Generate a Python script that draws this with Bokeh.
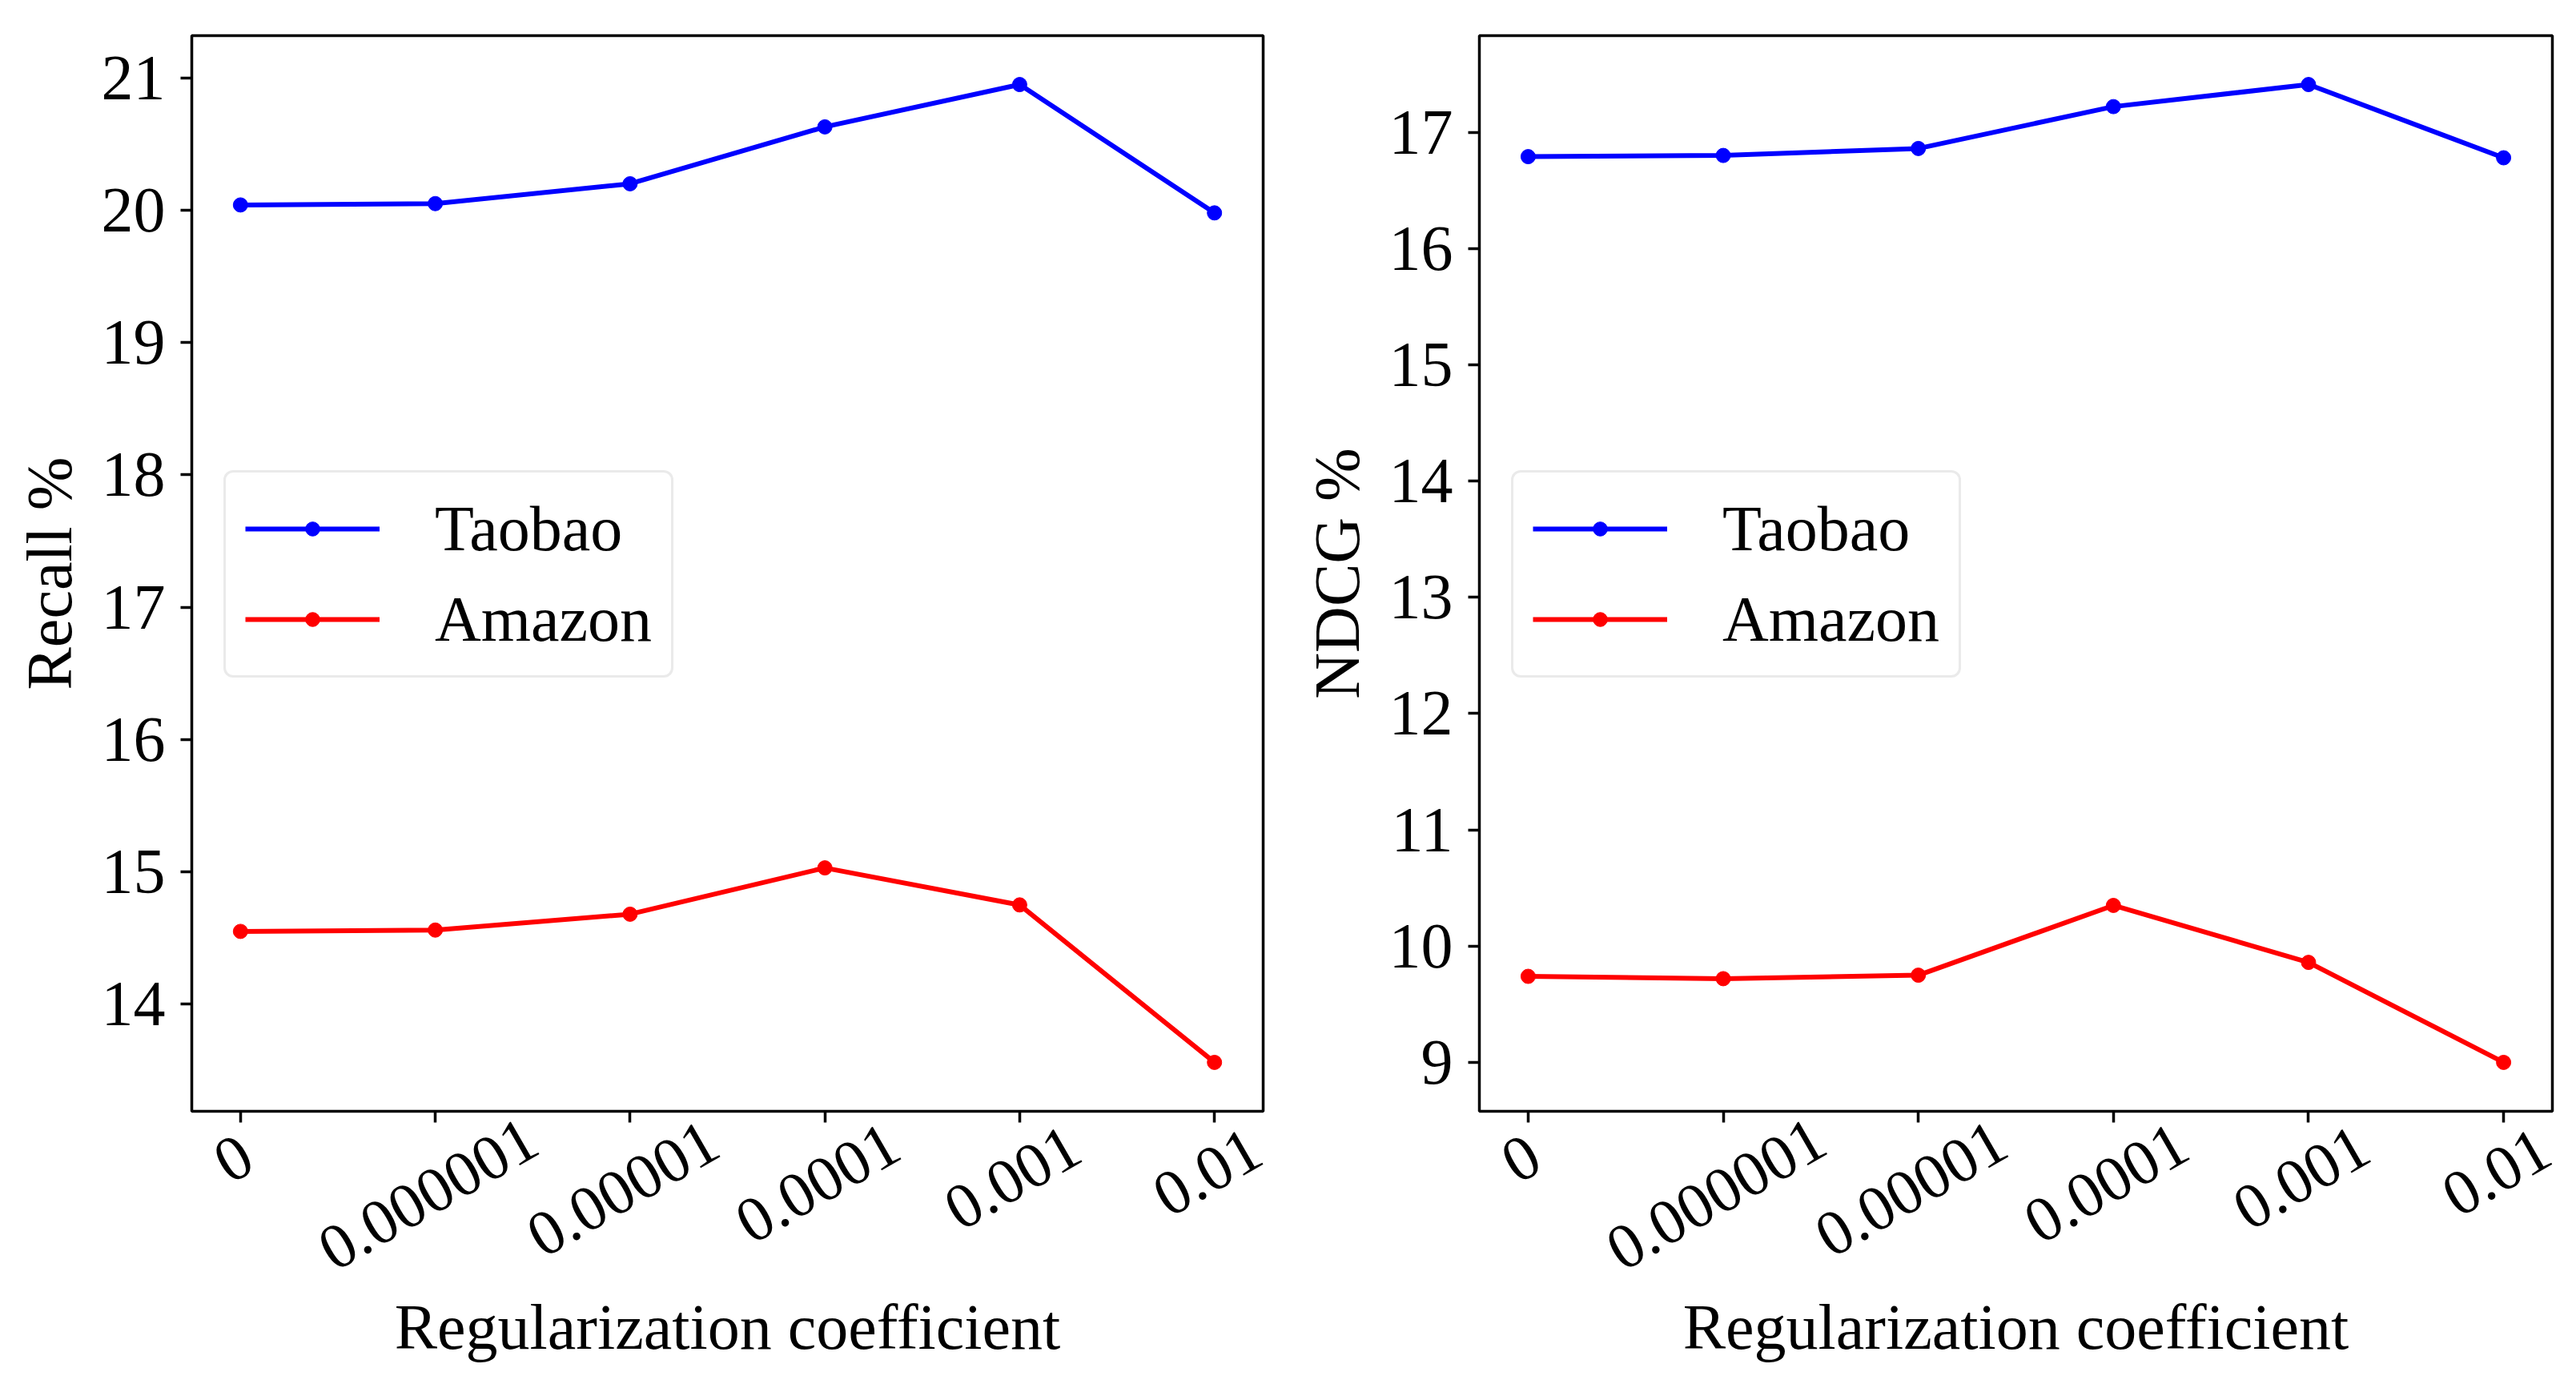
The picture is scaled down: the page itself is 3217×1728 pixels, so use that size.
import math
from bokeh.plotting import figure
from bokeh.layouts import row, column
from bokeh.models import Range1d, FixedTicker, Legend, LegendItem, ColumnDataSource
from bokeh.core.properties import value
from bokeh.embed import file_html
from bokeh.resources import INLINE

# ---- data ----
coef_labels = ["0", "0.000001", "0.00001", "0.0001", "0.001", "0.01"]
recall_taobao = [20.04, 20.05, 20.20, 20.63, 20.95, 19.98]
recall_amazon = [14.55, 14.56, 14.68, 15.03, 14.75, 13.56]
ndcg_taobao = [16.79, 16.80, 16.86, 17.22, 17.41, 16.78]
ndcg_amazon = [9.74, 9.72, 9.75, 10.35, 9.86, 9.00]
recall_ticks = [14, 15, 16, 17, 18, 19, 20, 21]
ndcg_ticks = [9, 10, 11, 12, 13, 14, 15, 16, 17]

FONT = "Liberation Serif"
FS = 80
BLUE = "#0000ff"
RED = "#ff0000"

TOP = 44          # space above the frame
FRAME_H = 1343    # frame height
MAIN_BOTTOM = 30  # space under the frame in the main figure (ticks)
TOTAL_H = 1709
LAB_BOTTOM = 10
OVER = 150        # the label strip overlaps the main figure by this much (transparent)


def text_width(s):
    return sum(0.25 * FS if c == "." else 0.5 * FS for c in s)


def style_text_axis(ax):
    ax.axis_label_text_font = FONT
    ax.axis_label_text_font_size = f"{FS}px"
    ax.axis_label_text_font_style = "normal"
    ax.axis_label_text_color = "black"


def make_panel(ylabel, taobao, amazon, yticks, width, border_left, border_right, extra):
    xs = list(range(len(coef_labels)))
    lo = min(taobao + amazon)
    hi = max(taobao + amazon)
    pad = 0.05 * (hi - lo)
    x0, x1 = -0.25, len(xs) - 1 + 0.25
    main_h = TOP + FRAME_H + MAIN_BOTTOM
    p = figure(width=width, height=main_h, output_backend="svg", toolbar_location=None,
               x_range=Range1d(x0, x1), y_range=Range1d(lo - pad, hi + pad),
               min_border_left=border_left, min_border_right=border_right,
               min_border_top=TOP, min_border_bottom=MAIN_BOTTOM)
    p.grid.visible = False
    p.outline_line_color = "black"
    p.outline_line_width = 3.5
    p.background_fill_color = "white"
    p.border_fill_color = "white"

    l1 = p.line(xs, taobao, line_color=BLUE, line_width=6)
    s1 = p.scatter(xs, taobao, size=18, marker="circle", fill_color=BLUE, line_color=BLUE)
    l2 = p.line(xs, amazon, line_color=RED, line_width=6)
    s2 = p.scatter(xs, amazon, size=18, marker="circle", fill_color=RED, line_color=RED)

    xa = p.xaxis[0]
    xa.ticker = FixedTicker(ticks=xs)
    xa.major_label_overrides = {i: "" for i in xs}
    xa.major_label_text_font_size = "0px"
    xa.major_label_standoff = 0
    xa.axis_line_color = None
    xa.major_tick_out = 14
    xa.major_tick_in = 0
    xa.minor_tick_out = 0
    xa.minor_tick_in = 0
    xa.major_tick_line_width = 3.5
    xa.major_tick_line_color = "black"

    ya = p.yaxis[0]
    ya.ticker = FixedTicker(ticks=yticks)
    ya.axis_line_color = None
    ya.major_tick_out = 14
    ya.major_tick_in = 0
    ya.minor_tick_out = 0
    ya.minor_tick_in = 0
    ya.major_tick_line_width = 3.5
    ya.major_tick_line_color = "black"
    ya.major_label_text_font = FONT
    ya.major_label_text_font_size = f"{FS}px"
    ya.major_label_text_color = "black"
    ya.major_label_standoff = 19
    ya.axis_label = ylabel
    style_text_axis(ya)
    ya.axis_label_standoff = 18

    legend = Legend(items=[LegendItem(label="Taobao", renderers=[l1, s1]),
                           LegendItem(label="Amazon", renderers=[l2, s2])],
                    location=(40, 541), margin=0, padding=24, spacing=21,
                    glyph_width=168, glyph_height=44, label_height=92, label_standoff=69,
                    label_text_font=FONT, label_text_font_size=f"{FS}px", label_text_color="black",
                    border_line_color="#d5d5d5", border_line_width=3, background_fill_color="white",
                    background_fill_alpha=0.8)
    try:
        if "border_radius" in Legend.properties():
            legend.border_radius = 12
    except Exception:
        pass
    p.add_layout(legend, "center")

    # transparent strip under (and slightly over) the frame: rotated, centred tick
    # labels on the same x scale, plus the x axis title.
    # y is in pixels below the main frame's bottom edge.
    lab_h = TOTAL_H - main_h + OVER
    lab_frame_h = lab_h - LAB_BOTTOM
    d_top = MAIN_BOTTOM - OVER
    can_unalign = "frame_align" in figure.properties()
    ext = extra if can_unalign else 0
    frame_w = width - border_left - border_right
    ux = (x1 - x0) / frame_w
    lab = figure(width=width, height=lab_h, output_backend="svg", toolbar_location=None,
                 x_range=Range1d(x0 - ext * ux, x1 + ext * ux),
                 y_range=Range1d(-(d_top + lab_frame_h), -d_top),
                 min_border_left=border_left - ext,
                 min_border_right=border_right - ext,
                 min_border_top=0, min_border_bottom=LAB_BOTTOM,
                 y_axis_location=None)
    if can_unalign:
        lab.frame_align = False
    lab.margin = (-OVER, 0, 0, 0)
    lab.grid.visible = False
    lab.outline_line_color = None
    lab.background_fill_alpha = 0
    lab.border_fill_alpha = 0
    src = ColumnDataSource(dict(
        x=xs,
        y=[-(52 + 0.17 * text_width(t)) for t in coef_labels],
        text=coef_labels,
    ))
    lab.text(x="x", y="y", text="text", source=src, angle=math.radians(30), x_offset=-9,
             text_align="center", text_baseline="middle",
             text_font=value(FONT), text_font_size=value(f"{FS}px"), text_color="black")
    la = lab.xaxis[0]
    la.ticker = FixedTicker(ticks=[])
    la.axis_line_color = None
    la.major_tick_out = 0
    la.major_tick_in = 0
    la.minor_tick_out = 0
    la.minor_tick_in = 0
    la.major_label_text_font_size = "0px"
    la.major_label_standoff = 0
    la.axis_label = "Regularization coefficient"
    style_text_axis(la)
    la.axis_label_standoff = -87
    return column(p, lab)


c1 = make_panel("Recall %", recall_taobao, recall_amazon, recall_ticks, 1620, 239, 43, 40)
c2 = make_panel("NDCG %", ndcg_taobao, ndcg_amazon, ndcg_ticks, 1589, 227, 22, 20)
layout = row(c1, c2)

open("out.html", "w").write(file_html(layout, INLINE))
